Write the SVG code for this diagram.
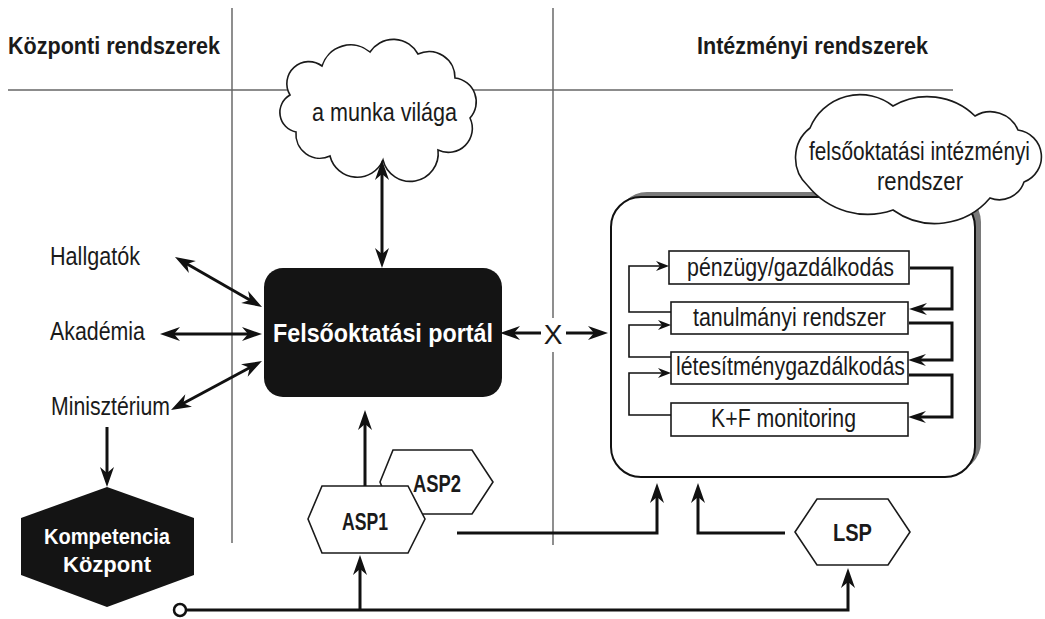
<svg xmlns="http://www.w3.org/2000/svg" width="1045" height="619" viewBox="0 0 1045 619">
  <style>
    .t { font-family: "Liberation Sans Narrow", "Liberation Sans", Arial, sans-serif; font-size: 25px; fill: #1a1a1a; }
    .b { font-family: "Liberation Sans Narrow", "Liberation Sans", Arial, sans-serif; font-weight: bold; fill: #1a1a1a; }
    .w { fill: #ffffff; }
    .frame { stroke: #444; stroke-width: 1.2; fill: none; }
    .box { fill: #fff; stroke: #1a1a1a; stroke-width: 1.6; }
    .thick { fill: none; stroke: #111; stroke-width: 3; stroke-linejoin: miter; }
    .thin { fill: none; stroke: #111; stroke-width: 1.6; stroke-linejoin: miter; }
    .big { marker-end: url(#ah); }
    .both { marker-start: url(#ah); marker-end: url(#ah); }
  </style>
  <defs>
    <!-- barbed arrowheads; line ends stop short of the tip by refX -->
    <marker id="ah" viewBox="-21 -8 22 16" refX="-12" refY="0" markerWidth="22" markerHeight="16" markerUnits="userSpaceOnUse" orient="auto-start-reverse">
      <path d="M0,0 L-20,-7 L-14,0 L-20,7 Z" fill="#111"/>
    </marker>
    <marker id="am" viewBox="-19 -7 20 14" refX="-10" refY="0" markerWidth="20" markerHeight="14" markerUnits="userSpaceOnUse" orient="auto-start-reverse">
      <path d="M0,0 L-18,-6 L-12,0 L-18,6 Z" fill="#111"/>
    </marker>
    <marker id="as" viewBox="-14 -6 15 12" refX="-7" refY="0" markerWidth="15" markerHeight="12" markerUnits="userSpaceOnUse" orient="auto-start-reverse">
      <path d="M0,0 L-13,-5 L-9,0 L-13,5 Z" fill="#111"/>
    </marker>
  </defs>

  <!-- page frame: column separators and header rule -->
  <g id="frame">
    <line class="frame" x1="232" y1="8" x2="232" y2="543"/>
    <line class="frame" x1="553" y1="8" x2="553" y2="545"/>
    <line x1="8" y1="90" x2="953" y2="90" stroke="#666" stroke-width="1.5"/>
    <text class="b" x="8" y="54" font-size="24" textLength="212" lengthAdjust="spacingAndGlyphs">Központi rendszerek</text>
    <text class="b" x="697" y="54" font-size="24" textLength="231" lengthAdjust="spacingAndGlyphs">Intézményi rendszerek</text>
  </g>

  <!-- institutional system panel -->
  <g id="panel">
    <rect x="617" y="192" width="364" height="280" rx="30" fill="#7a7a7a"/>
    <rect x="611" y="197" width="364" height="280" rx="30" fill="#fff" stroke="#111" stroke-width="2"/>
  </g>

  <g id="cloud-institution">
    <path class="box" d="M808,186 A38,38 0 0 1 810,128 A54,54 0 0 1 893,106 A68,68 0 0 1 975,116 A30,30 0 0 1 1018,130 A27,27 0 0 1 1024,182 A26,26 0 0 1 990,198 A72,72 0 0 1 893,210 A77,77 0 0 1 808,186 Z"/>
    <text class="t" x="809" y="160" font-size="22" textLength="221" lengthAdjust="spacingAndGlyphs">felsőoktatási intézményi</text>
    <text class="t" x="877" y="190" textLength="86" lengthAdjust="spacingAndGlyphs">rendszer</text>
  </g>

  <g id="penzugy">
    <rect class="box" x="669" y="251" width="240" height="33"/>
    <text class="t" x="687" y="276" textLength="207" lengthAdjust="spacingAndGlyphs">pénzügy/gazdálkodás</text>
  </g>
  <g id="tanulmanyi">
    <rect class="box" x="671" y="302" width="237" height="32"/>
    <text class="t" x="693" y="326" textLength="193" lengthAdjust="spacingAndGlyphs">tanulmányi rendszer</text>
  </g>
  <g id="letesitmeny">
    <rect class="box" x="671" y="352" width="237" height="32"/>
    <text class="t" x="676" y="375" textLength="229" lengthAdjust="spacingAndGlyphs">létesítménygazdálkodás</text>
  </g>
  <g id="kf">
    <rect class="box" x="671" y="403" width="237" height="33"/>
    <text class="t" x="711" y="427" textLength="145" lengthAdjust="spacingAndGlyphs">K+F monitoring</text>
  </g>

  <g id="cloud-work">
    <path class="box" d="M290,95 A22,22 0 0 1 322,66 A30,30 0 0 1 370,52 A28,28 0 0 1 418,54 A26,26 0 0 1 455,78 A24,24 0 0 1 470,118 A24,24 0 0 1 438,150 A28,28 0 0 1 383,160 A28,28 0 0 1 330,156 A24,24 0 0 1 296,132 A20,20 0 0 1 290,95 Z"/>
    <text class="t" x="312" y="121" textLength="145" lengthAdjust="spacingAndGlyphs">a munka világa</text>
  </g>

  <g id="portal">
    <rect x="264" y="268" width="238" height="129" rx="19" fill="#141414"/>
    <text class="b w" x="273" y="342" font-size="26" textLength="220" lengthAdjust="spacingAndGlyphs">Felsőoktatási portál</text>
  </g>

  <g id="hallgatok"><text class="t" x="50" y="265" textLength="90" lengthAdjust="spacingAndGlyphs">Hallgatók</text></g>
  <g id="akademia"><text class="t" x="50" y="340" textLength="95" lengthAdjust="spacingAndGlyphs">Akadémia</text></g>
  <g id="miniszterium"><text class="t" x="51" y="415" textLength="119" lengthAdjust="spacingAndGlyphs">Minisztérium</text></g>

  <g id="kompetencia">
    <polygon points="107,487 194,518 194,575 107,607 21,575 21,518" fill="#141414"/>
    <text class="b w" x="44" y="544" font-size="22" textLength="126" lengthAdjust="spacingAndGlyphs">Kompetencia</text>
    <text class="b w" x="63" y="572" font-size="22" textLength="88" lengthAdjust="spacingAndGlyphs">Központ</text>
  </g>

  <g id="asp2">
    <polygon class="box" points="380,482 393,450 472,450 493,482 472,514 393,514"/>
    <text class="b" x="413" y="492" font-size="23" textLength="48" lengthAdjust="spacingAndGlyphs">ASP2</text>
  </g>
  <g id="asp1">
    <polygon class="box" points="308,519 322,486 408,486 425,519 408,553 322,553"/>
    <text class="b" x="342" y="530" font-size="23" textLength="46" lengthAdjust="spacingAndGlyphs">ASP1</text>
  </g>
  <g id="lsp">
    <polygon class="box" points="795,532 817,499 888,499 910,532 888,565 817,565"/>
    <text class="b" x="833" y="541" font-size="23" textLength="39" lengthAdjust="spacingAndGlyphs">LSP</text>
  </g>

  <g id="connectors">
    <!-- portal links -->
    <line class="thick both" x1="382" y1="172" x2="382" y2="256"/>
    <line class="thick both" x1="185.4" y1="263" x2="251.6" y2="301"/>
    <line class="thick both" x1="172" y1="334" x2="250" y2="334"/>
    <line class="thick both" x1="181.6" y1="404.3" x2="251.4" y2="366.7"/>
    <line class="thick big" x1="107" y1="427" x2="107" y2="475"/>
    <line class="thick big" x1="365" y1="486" x2="365" y2="422"/>
    <!-- blocked link portal / institution -->
    <rect x="542" y="318" width="23" height="34" fill="#fff"/>
    <line class="thick" x1="512" y1="333" x2="541" y2="333" marker-start="url(#ah)"/>
    <line class="thick big" x1="566" y1="333" x2="596" y2="333"/>
    <text x="553" y="344" text-anchor="middle" font-family="Liberation Sans, Arial, sans-serif" font-size="28" fill="#1a1a1a">X</text>
    <!-- service providers -->
    <circle cx="180" cy="610" r="6" fill="#fff" stroke="#111" stroke-width="2.5"/>
    <polyline class="thick big" points="186,610 848,610 848,580"/>
    <line class="thick big" x1="360" y1="610" x2="360" y2="567"/>
    <polyline class="thick big" points="457,533 657,533 657,495"/>
    <polyline class="thick big" points="785,533 698,533 698,495"/>
    <!-- inner cycle, left side -->
    <polyline class="thin" points="671,312 629,312 629,266 662,266" marker-end="url(#as)"/>
    <polyline class="thin" points="671,357 629,357 629,325 664,325" marker-end="url(#as)"/>
    <polyline class="thin" points="671,415 629,415 629,373 664,373" marker-end="url(#as)"/>
    <!-- inner cycle, right side -->
    <polyline class="thick" points="910,268 952,268 952,309 919,309" marker-end="url(#am)"/>
    <polyline class="thick" points="909,323 952,323 952,360 918,360" marker-end="url(#am)"/>
    <polyline class="thick" stroke-width="2.2" points="909,375 952,375 952,417 918,417" marker-end="url(#am)"/>
  </g>
</svg>
